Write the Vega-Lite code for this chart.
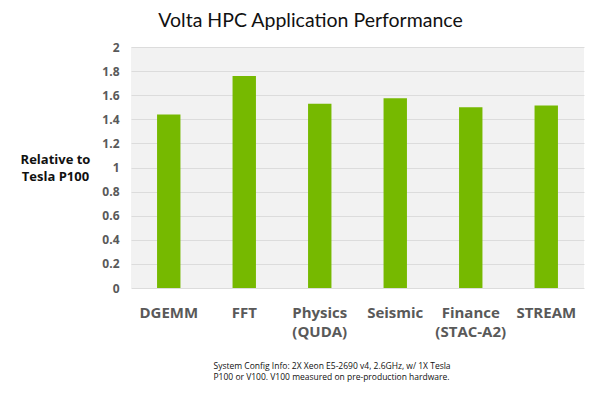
{
  "$schema": "https://vega.github.io/schema/vega-lite/v6.json",
  "width": 453,
  "height": 241,
  "autosize": {"type": "none"},
  "padding": {"left": 131, "top": 47, "right": 16, "bottom": 109},
  "background": "white",
  "title": {
    "text": "Volta HPC Application Performance",
    "anchor": "middle",
    "frame": "group",
    "dx": -47,
    "offset": 10,
    "font": "Lato",
    "fontSize": 19.5,
    "fontWeight": "normal",
    "color": "#111111"
  },
  "data": {
    "values": [
      {"app": "DGEMM", "perf": 1.44},
      {"app": "FFT", "perf": 1.76},
      {"app": "Physics (QUDA)", "perf": 1.53},
      {"app": "Seismic", "perf": 1.575},
      {"app": "Finance (STAC-A2)", "perf": 1.5},
      {"app": "STREAM", "perf": 1.515}
    ]
  },
  "mark": {"type": "bar", "color": "#76b900", "width": {"band": 0.31}},
  "encoding": {
    "x": {
      "field": "app",
      "type": "nominal",
      "sort": null,
      "scale": {"paddingInner": 0, "paddingOuter": 0},
      "axis": {
        "labelAngle": 0,
        "labelExpr": "split(datum.label, ' ')",
        "labelFont": "Open Sans",
        "labelFontSize": 15,
        "labelFontWeight": "bold",
        "labelColor": "#595959",
        "labelLineHeight": 19,
        "labelPadding": 17,
        "ticks": false,
        "domain": false,
        "title": ["System Config Info: 2X Xeon E5-2690 v4, 2.6GHz, w/ 1X Tesla", "P100 or V100. V100 measured on pre-production hardware."],
        "titleFont": "Open Sans",
        "titleFontSize": 8.5,
        "titleFontWeight": "normal",
        "titleColor": "#111111",
        "titleLineHeight": 11,
        "titleAlign": "left",
        "titleAnchor": "start",
        "titleBaseline": "alphabetic",
        "titleX": 82,
        "titleY": 80
      }
    },
    "y": {
      "field": "perf",
      "type": "quantitative",
      "scale": {"domain": [0, 2]},
      "axis": {
        "values": [0, 0.2, 0.4, 0.6, 0.8, 1, 1.2, 1.4, 1.6, 1.8, 2],
        "format": "~g",
        "labelFont": "Open Sans",
        "labelFontSize": 12,
        "labelFontWeight": "bold",
        "labelColor": "#595959",
        "labelPadding": 12,
        "ticks": false,
        "domain": false,
        "gridColor": "#dcdcdc",
        "gridWidth": 1,
        "title": ["Relative to", "Tesla P100"],
        "titleFont": "Open Sans",
        "titleFontSize": 13,
        "titleFontWeight": "bold",
        "titleColor": "#111111",
        "titleAngle": 0,
        "titleAlign": "center",
        "titleBaseline": "top",
        "titleLineHeight": 17,
        "titleX": -76,
        "titleY": 106
      }
    }
  },
  "config": {
    "view": {"fill": "#f2f2f2", "stroke": null}
  }
}
